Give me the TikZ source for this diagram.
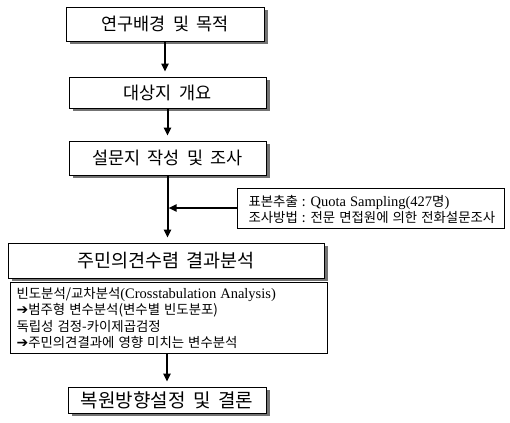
\documentclass[tikz,border=0pt]{standalone}
\usepackage{fontspec}
\setmainfont{Noto Sans CJK KR}
\newfontfamily\lat{Liberation Serif}
\newfontfamily\sym{DejaVu Sans}
\usetikzlibrary{shadows,arrows.meta}
\newcommand{\wsp}{\spaceskip=0.4em plus 0.1em\relax}
\newcommand{\ssp}{\spaceskip=0.3em plus 0.05em\relax}
\newcommand{\rarr}{{\sym\fontsize{14}{12}\selectfont ➔}}
\newcommand{\latf}{\lat\fontsize{14.5}{16}\selectfont}
\begin{document}
\begin{tikzpicture}[x=1pt,y=-1pt,
  mainbox/.style={draw=black,line width=0.8pt,fill=white,inner sep=0pt,
    drop shadow={shadow xshift=3.5pt,shadow yshift=-3pt,fill=black!55,opacity=1},
    font=\fontsize{17.5}{19}\selectfont\wsp},
  infobox/.style={draw=black,line width=0.8pt,fill=white,inner sep=0pt},
  flow/.style={line width=2pt,-{Triangle[length=8pt,width=7pt]},shorten >=5pt},
  smalltxt/.style={font=\fontsize{13.4}{16.5}\selectfont\ssp,align=left,anchor=west}]
\useasboundingbox (0,0) rectangle (510,422);
\node[mainbox,minimum width=198pt,minimum height=34pt] (b1) at (165,24) {연구배경 및 목적};
\node[mainbox,minimum width=197pt,minimum height=31pt] (b2) at (167.5,92.5) {대상지 개요};
\node[mainbox,minimum width=197pt,minimum height=34pt] (b3) at (167.5,158) {설문지 작성 및 조사};
\node[infobox,minimum width=267pt,minimum height=40pt] (side) at (370.5,208) {};
\node[smalltxt] (st) at (245,209.5) {표본추출 : {\latf Quota Sampling(427}명{\latf )}\\조사방법 : 전문 면접원에 의한 전화설문조사};
\node[mainbox,minimum width=316pt,minimum height=35pt,font=\fontsize{18.5}{20}\selectfont\wsp] (b4) at (166,260.5) {주민의견수렴 결과분석};
\node[infobox,minimum width=317pt,minimum height=71pt] (det) at (168.5,317.5) {};
\node[smalltxt] (dt) at (13,318) {빈도분석/교차분석{\latf (Crosstabulation Analysis)}\\
 \rarr 범주형 변수분석(변수별 빈도분포)\\
독립성 검정-카이제곱검정\\
 \rarr 주민의견결과에 영향 미치는 변수분석};
\node[mainbox,minimum width=198pt,minimum height=26pt,font=\fontsize{19}{20}\selectfont\wsp] (b5) at (167,400) {복원방향설정 및 결론};
\draw[flow] (b1.south) -- (b1.south |- b2.north);
\draw[flow] (b2.south) -- (b2.south |- b3.north);
\draw[flow] (b3.south) -- (b3.south |- b4.north);
\draw[flow,shorten >=1pt] (side.west) -- (side.west -| b3.south);
\draw[flow] (det.south -| b5.north) -- (b5.north);
\end{tikzpicture}
\end{document}
